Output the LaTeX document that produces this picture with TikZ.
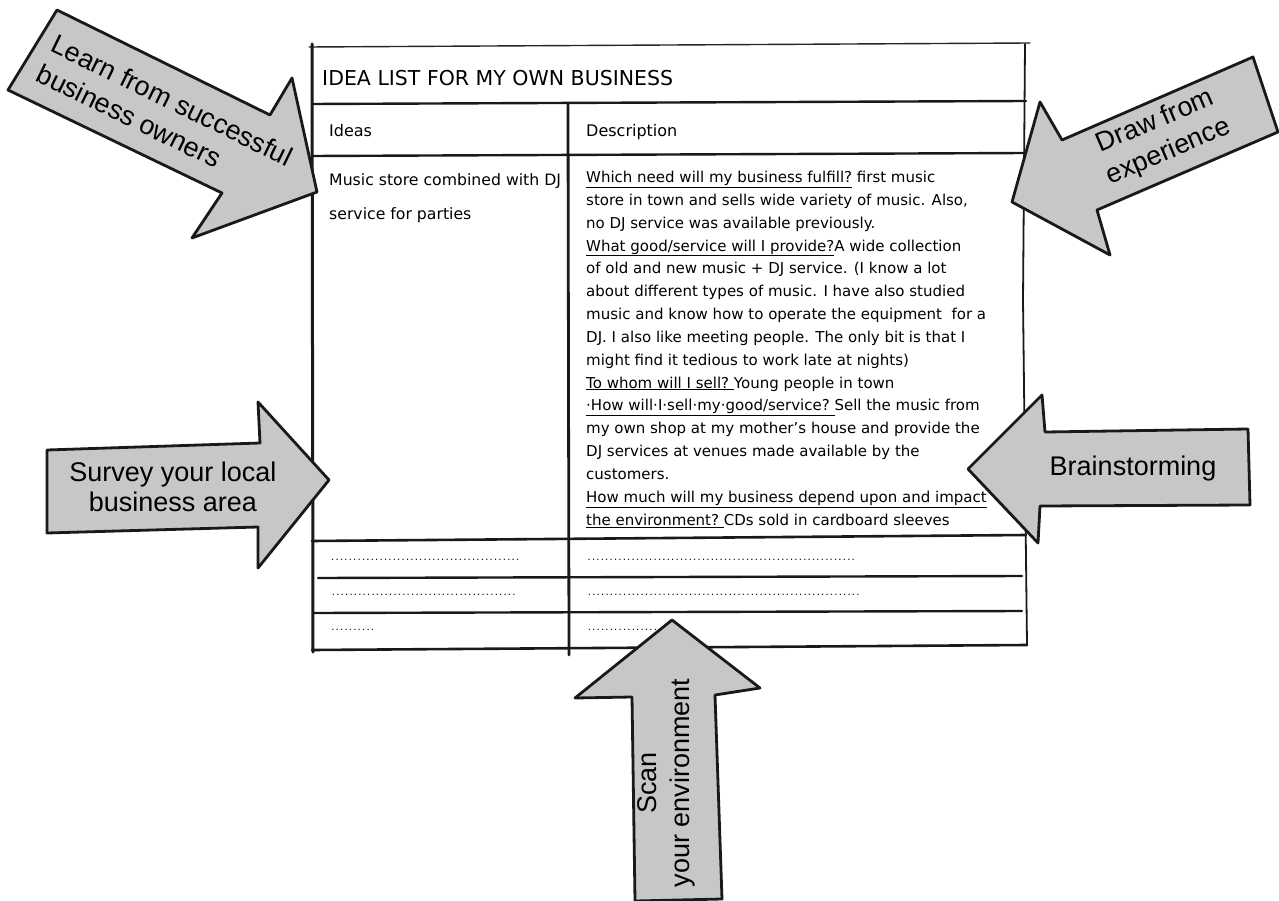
\documentclass[tikz,border=0pt]{standalone}
\usepackage{fontspec}
\setmainfont{DejaVu Sans}
\newfontfamily\arrowfont{Liberation Sans}
\newcommand\dotrow[1]{\makebox[#1pt][l]{\dotfill}}

\begin{document}
\begin{tikzpicture}[x=1pt, y=-1pt,
  rule/.style={line width=2.4pt, line cap=round, black!90},
  thinrule/.style={line width=1.4pt, line cap=round, black!85},
  bigarrow/.style={draw=black!90, fill=black!22, line width=2.8pt, line join=round},
  arrowtext/.style={font=\arrowfont\fontsize{27}{30}\selectfont, align=center, inner sep=0pt},
  slanttext/.style={arrowtext, font=\arrowfont\fontsize{27}{33}\selectfont},
  headtext/.style={font=\fontsize{16}{18}\selectfont, anchor=base west, inner sep=0pt},
  celltext/.style={font=\fontsize{15}{22.84}\selectfont, align=left, anchor=north west, inner sep=0pt},
  dotcell/.style={font=\fontsize{10}{12}\selectfont, anchor=base west, inner sep=0pt}]

  \useasboundingbox (0,0) rectangle (1279,901);

  % the table
  \draw[thinrule] (309,47) -- (1030,43);
  \draw[rule, line width=3pt] (312,44) -- (313,652);
  \draw[rule, line width=1.8pt] (1025,44) -- (1023,300) -- (1027,645);
  \draw[rule] (312,104) -- (1026,101);
  \draw[rule] (312,156) -- (1026,153);
  \draw[rule, line width=2.8pt] (568,104) -- (569,655);
  \draw[rule, line width=2.6pt] (312,541) -- (1026,535);
  \draw[rule] (318,578) -- (1022,576);
  \draw[rule] (314,613) -- (1022,611);
  \draw[rule, line width=2.6pt] (312,650) -- (1027,645);

  \node[headtext, font=\fontsize{20.5}{24}\selectfont] (title) at (322,86) {IDEA LIST FOR MY OWN BUSINESS};
  \node[headtext] (ideas) at (329,137) {Ideas};
  \node[headtext] (descr) at (586,137) {Description};

  \node[celltext, font=\fontsize{15.7}{34}\selectfont] (idea) at (329,161.2)
    {\strut Music store combined with DJ\\service for parties};
  \node[celltext] (text) at (586,166.3)
    {\strut\underline{Which need will my business fulfill?} first music\\
     store in town and sells wide variety of music. Also,\\
     no DJ service was available previously.\\
     \underline{What good/service will I provide?}A wide collection\\
     of old and new music + DJ service. (I know a lot\\
     about different types of music. I have also studied\\
     music and know how to operate the equipment\ \ for a\\
     DJ. I also like meeting people. The only bit is that I\\
     might find it tedious to work late at nights)\\
     \underline{To whom will I sell?\ }Young people in town\\
     \underline{·How will·I·sell·my·good/service?\ }Sell the music from\\
     my own shop at my mother’s house and provide the\\
     DJ services at venues made available by the\\
     customers.\\
     \underline{How much will my business depend upon and impact}\\
     \underline{the environment?\ }CDs sold in cardboard sleeves};

  \node[dotcell] (dotsA) at (330,560) {\dotrow{190}};
  \node[dotcell] (dotsB) at (330,595) {\dotrow{187}};
  \node[dotcell] (dotsC) at (330,630) {\dotrow{45}};
  \node[dotcell] (dotsD) at (586,560) {\dotrow{270}};
  \node[dotcell] (dotsE) at (586,595) {\dotrow{275}};
  \node[dotcell] (dotsF) at (586,630) {\dotrow{90}};

  % the arrows
  \draw[bigarrow] (57,10) -- (270,115) -- (292,78) -- (317,192) -- (192,238)
    -- (222,193) -- (8,90) -- cycle;
  \node[slanttext, align=left, rotate=-26] (learn) at (165,115) {Learn from successful\\business owners};

  \draw[bigarrow] (47,450) -- (260,443) -- (258,402) -- (329,480) -- (258,568)
    -- (258,527) -- (47,533) -- cycle;
  \node[arrowtext] (survey) at (173,487) {Survey your local\\business area};

  \draw[bigarrow] (1253,57) -- (1278,132) -- (1097,210) -- (1110,255) -- (1012,202)
    -- (1040,102) -- (1062,140) -- cycle;
  \node[slanttext, rotate=23] (draw) at (1162,137) {Draw from\\experience};

  \draw[bigarrow] (968,469) -- (1042,395) -- (1045,432) -- (1248,429) -- (1250,505)
    -- (1040,506) -- (1038,543) -- cycle;
  \node[arrowtext] (brain) at (1133,469) {Brainstorming};

  \draw[bigarrow] (672,620) -- (760,688) -- (715,695) -- (722,899) -- (635,901)
    -- (632,697) -- (575,698) -- cycle;
  \node[slanttext, rotate=90] (scan) at (666,783) {Scan\\your environment};

\end{tikzpicture}
\end{document}
